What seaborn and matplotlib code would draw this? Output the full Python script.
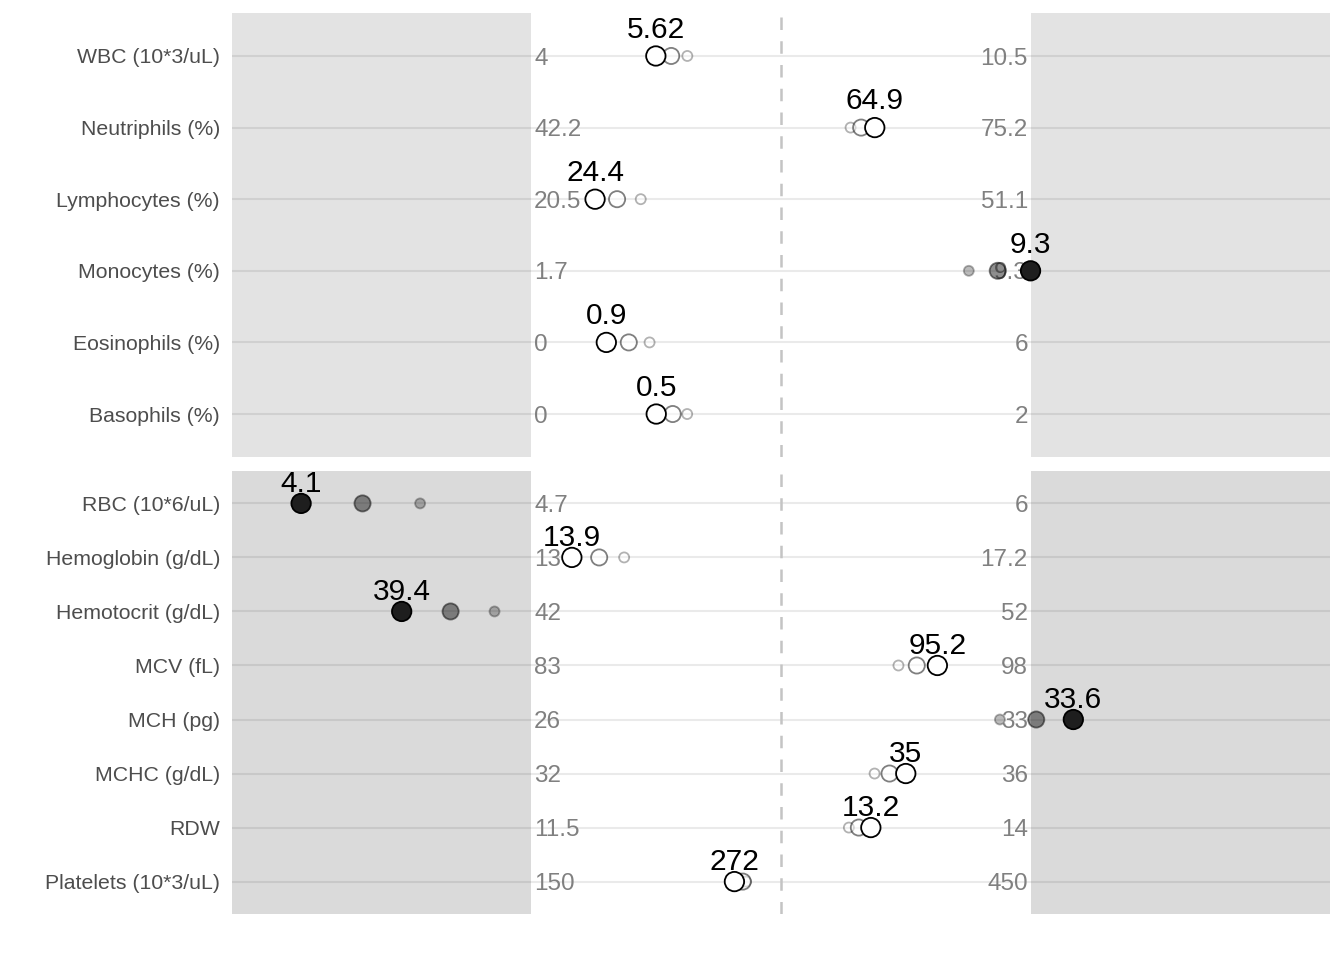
import numpy as np
import pandas as pd
import matplotlib
matplotlib.use("Agg")
import matplotlib.pyplot as plt
import seaborn as sns

# ---------------- data ----------------
tests = ["WBC (10*3/uL)", "Neutriphils (%)", "Lymphocytes (%)", "Monocytes (%)",
         "Eosinophils (%)", "Basophils (%)",
         "RBC (10*6/uL)", "Hemoglobin (g/dL)", "Hemotocrit (g/dL)", "MCV (fL)",
         "MCH (pg)", "MCHC (g/dL)", "RDW", "Platelets (10*3/uL)"]
panel = ["top"] * 6 + ["bottom"] * 8
ref_low = [4, 42.2, 20.5, 1.7, 0, 0, 4.7, 13, 42, 83, 26, 32, 11.5, 150]
ref_high = [10.5, 75.2, 51.1, 9.3, 6, 2, 6, 17.2, 52, 98, 33, 36, 14, 450]
visit1 = [6.03, 63.3, 27.2, 8.36, 1.42, 0.624, 4.41, 13.78, 41.26, 94.03, 32.57, 34.75, 13.09, 279]
visit2 = [5.82, 64.0, 25.75, 8.8, 1.17, 0.566, 4.26, 13.57, 40.38, 94.58, 33.08, 34.87, 13.14, 277]
current = [5.62, 64.9, 24.4, 9.3, 0.9, 0.5, 4.1, 13.34, 39.4, 95.2, 33.6, 35, 13.2, 272]
current_labels = ["5.62", "64.9", "24.4", "9.3", "0.9", "0.5", "4.1", "13.9", "39.4",
                  "95.2", "33.6", "35", "13.2", "272"]

# ---------------- build frame ----------------
low = np.array(ref_low, float)
high = np.array(ref_high, float)
cur = np.array(current, float)
status = np.where((cur < low) | (cur >= high), "out", "in")

rows = []
for vname, vals in [("v1", visit1), ("v2", visit2), ("v3", current)]:
    for i, t in enumerate(tests):
        rows.append(dict(test=t, panel=panel[i], visit=vname, value=vals[i],
                         norm=(vals[i] - low[i]) / (high[i] - low[i]),
                         status=status[i]))
df = pd.DataFrame(rows)

sns.set_style("white")
plt.rcParams["font.family"] = ["Liberation Sans", "DejaVu Sans"]

fig = plt.figure(figsize=(13.44, 9.6), dpi=100)
L = 232 / 1344
W = 1098 / 1344
ax_top = fig.add_axes([L, 1 - 457 / 960, W, 444 / 960])
ax_bot = fig.add_axes([L, 1 - 914 / 960, W, 443 / 960])

palette = {"in": "white", "out": "#1E1E1E"}
visit_style = {"v1": (52, 0.3), "v2": (135, 0.5), "v3": (195, 1.0)}

for ax, pname, shade in [(ax_top, "top", 0.11), (ax_bot, "bottom", 0.145)]:
    idx = [i for i, p in enumerate(panel) if p == pname]
    names = [tests[i] for i in idx]
    n = len(names)
    pos = {t: k for k, t in enumerate(names)}
    sub = df[df.panel == pname].copy()
    sub["pos"] = sub.test.map(pos)

    ax.set_xlim(-0.6, 1.6)
    ax.set_ylim(n - 0.4, -0.6)
    for s in ax.spines.values():
        s.set_visible(False)
    ax.set_facecolor("white")

    # grid & shaded out-of-range zones
    ax.hlines(range(n), -0.6, 1.6, color="#EAEAEA", lw=1.5, zorder=0.5)
    ax.axvspan(-0.6, 0, color="black", alpha=shade, lw=0, zorder=1)
    ax.axvspan(1, 1.6, color="black", alpha=shade, lw=0, zorder=1)
    ax.axvline(0.5, color="#C4C4C4", ls=(0, (5, 4.5)), lw=1.8, zorder=1.5)

    # reference range labels
    for k, i in enumerate(idx):
        ax.annotate(f"{ref_low[i]:g}", xy=(0, k), xytext=(2, -6.2),
                    textcoords="offset points", ha="left", va="baseline",
                    fontsize=17.5, color="#808080", zorder=2)
        ax.annotate(f"{ref_high[i]:g}", xy=(1, k), xytext=(-2, -6.2),
                    textcoords="offset points", ha="right", va="baseline",
                    fontsize=17.5, color="#808080", zorder=2)

    # points
    for vname in ["v1", "v2", "v3"]:
        size, alpha = visit_style[vname]
        d = sub[sub.visit == vname]
        sns.scatterplot(data=d, x="norm", y="pos", hue="status", palette=palette,
                        s=size, alpha=alpha, edgecolor="black", linewidth=1.3,
                        legend=False, ax=ax, zorder=3)

    # value labels for current visit
    cd = sub[sub.visit == "v3"]
    for _, r in cd.iterrows():
        ti = tests.index(r.test)
        ax.annotate(current_labels[ti], xy=(r.norm, r.pos - 0.39), xytext=(0, -7.0),
                    textcoords="offset points", ha="center", va="baseline",
                    fontsize=21.5, color="black", zorder=4)

    ax.set_xticks([])
    ax.set_yticks(range(n))
    ax.set_yticklabels(names)
    ax.tick_params(axis="y", length=0, pad=8.6, labelsize=15.3, labelcolor="#4D4D4D")
    ax.set_xlabel("")
    ax.set_ylabel("")

fig.savefig("out.png", dpi=100, facecolor="white")
